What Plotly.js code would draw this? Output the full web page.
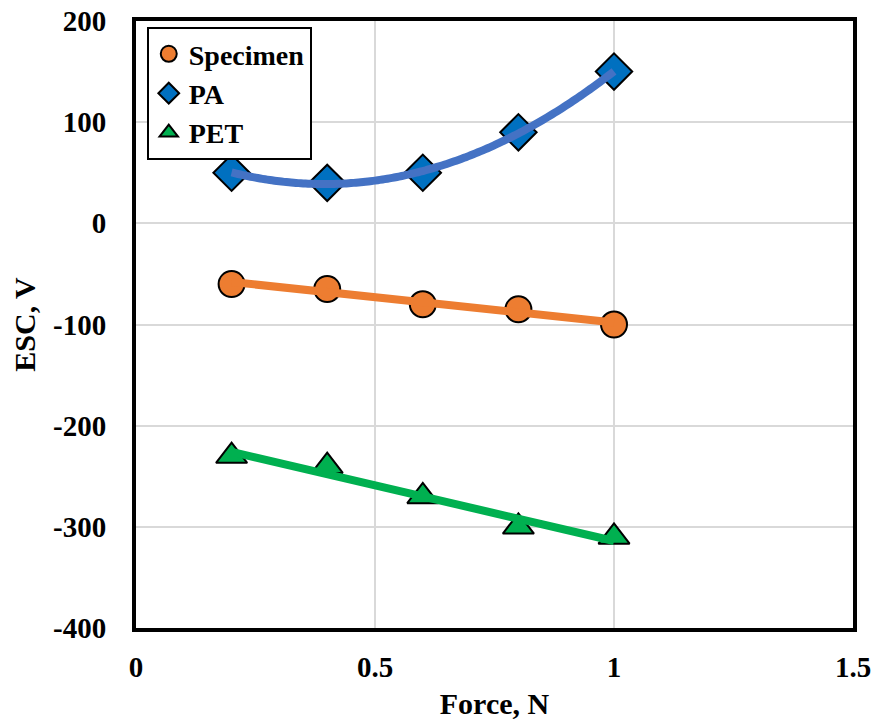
<!DOCTYPE html>
<html>
<head>
<meta charset="utf-8">
<script src="https://cdn.plot.ly/plotly-3.0.1.min.js"></script>
<style>html,body{margin:0;padding:0;background:#fff;}#chart{width:875px;height:728px;}</style>
</head>
<body>
<div id="chart"></div>
<script>
// Data
const force = [0.2, 0.4, 0.6, 0.8, 1.0];
const specimen = [-60, -65, -80, -85, -100];
const pa = [50, 40, 50, 90, 150];
const pet = [-230, -240, -270, -300, -310];
const seriesNames = ["Specimen", "PA", "PET"];
const xTicks = [0, 0.5, 1, 1.5];
const yTicks = [200, 100, 0, -100, -200, -300, -400];

// least-squares polynomial fit (trendline derived from the data)
function polyfit(xs, ys, deg) {
  const n = deg + 1;
  const A = [];
  for (let i = 0; i < n; i++) {
    A.push(new Array(n + 1).fill(0));
  }
  for (let k = 0; k < xs.length; k++) {
    for (let i = 0; i < n; i++) {
      for (let j = 0; j < n; j++) A[i][j] += Math.pow(xs[k], i + j);
      A[i][n] += ys[k] * Math.pow(xs[k], i);
    }
  }
  for (let i = 0; i < n; i++) {
    let p = i;
    for (let r = i + 1; r < n; r++) if (Math.abs(A[r][i]) > Math.abs(A[p][i])) p = r;
    [A[i], A[p]] = [A[p], A[i]];
    for (let r = 0; r < n; r++) {
      if (r === i) continue;
      const f = A[r][i] / A[i][i];
      for (let c = i; c <= n; c++) A[r][c] -= f * A[i][c];
    }
  }
  return A.map((row, i) => row[n] / row[i]);
}
function trend(xs, ys, deg) {
  const c = polyfit(xs, ys, deg);
  const x0 = Math.min(...xs), x1 = Math.max(...xs);
  const tx = [], ty = [];
  const N = 80;
  for (let i = 0; i <= N; i++) {
    const x = x0 + (x1 - x0) * i / N;
    let y = 0;
    for (let k = 0; k < c.length; k++) y += c[k] * Math.pow(x, k);
    tx.push(x); ty.push(y);
  }
  return {x: tx, y: ty};
}

const font = "'Liberation Serif', 'Times New Roman', serif";
const tSpec = trend(force, specimen, 1);
const tPA = trend(force, pa, 2);
const tPET = trend(force, pet, 1);

const traces = [
  {x: force, y: specimen, name: seriesNames[0], mode: "markers", type: "scatter",
   marker: {symbol: "circle", size: 26, color: "#ED7D31", line: {color: "#000", width: 2}}},
  {x: force, y: pa, name: seriesNames[1], mode: "markers", type: "scatter",
   marker: {symbol: "diamond", size: 28, color: "#0070C0", line: {color: "#000", width: 2}}},
  {x: force, y: pet, name: seriesNames[2], mode: "markers", type: "scatter",
   marker: {symbol: "triangle-up", size: 27, color: "#00B050", line: {color: "#000", width: 2}}},
  {x: tSpec.x, y: tSpec.y, mode: "lines", showlegend: false, hoverinfo: "skip",
   line: {color: "#ED7D31", width: 8}},
  {x: tPA.x, y: tPA.y, mode: "lines", showlegend: false, hoverinfo: "skip",
   line: {color: "#4472C4", width: 8, shape: "spline"}},
  {x: tPET.x, y: tPET.y, mode: "lines", showlegend: false, hoverinfo: "skip",
   line: {color: "#00B050", width: 8}}
];

const layout = {
  width: 875, height: 728,
  margin: {l: 136, r: 22, t: 21, b: 100},
  paper_bgcolor: "#fff", plot_bgcolor: "#fff",
  font: {family: font, size: 28, color: "#000", weight: "bold"},
  showlegend: true,
  legend: {
    x: 0.015, y: 0.99, xanchor: "left", yanchor: "top",
    bgcolor: "#fff", bordercolor: "#000", borderwidth: 2,
    font: {family: font, size: 28, color: "#000", weight: "bold"},
    itemwidth: 30, tracegroupgap: 0
  },
  xaxis: {
    range: [0, 1.5], tickvals: xTicks, ticktext: xTicks.map(String),
    showgrid: true, gridcolor: "#d9d9d9", gridwidth: 2,
    zeroline: false, showline: true, linecolor: "#000", linewidth: 4, mirror: true,
    ticks: "", ticklabelstandoff: 10,
    tickfont: {family: font, size: 29, weight: "bold"},
    title: {text: "Force, N", standoff: 12, font: {family: font, size: 30, weight: "bold"}}
  },
  yaxis: {
    range: [-400, 200], tickvals: yTicks, ticktext: yTicks.map(String),
    showgrid: true, gridcolor: "#d9d9d9", gridwidth: 2,
    zeroline: false, showline: true, linecolor: "#000", linewidth: 4, mirror: true,
    ticks: "", ticklabelstandoff: 20,
    tickfont: {family: font, size: 29, weight: "bold"},
    title: {text: "ESC, V", standoff: 10, font: {family: font, size: 30, weight: "bold"}}
  }
};

Plotly.newPlot("chart", traces, layout, {displayModeBar: false, staticPlot: true});
</script>
</body>
</html>
